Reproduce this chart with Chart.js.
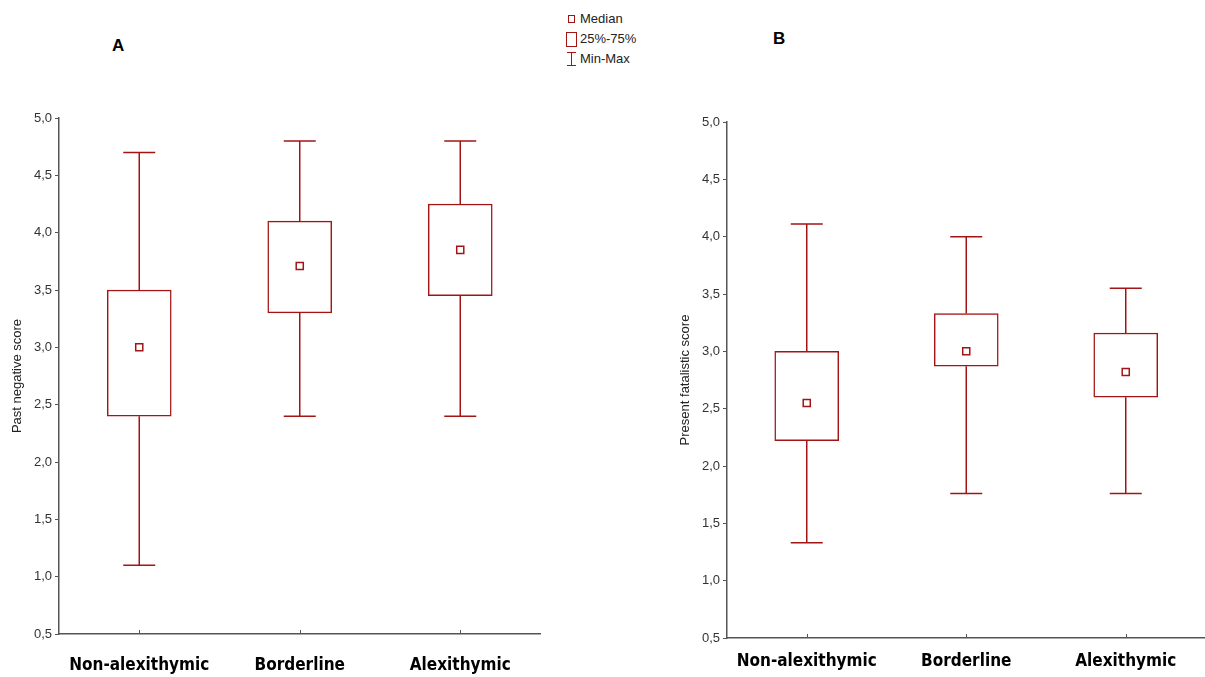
<!DOCTYPE html>
<html>
<head>
<meta charset="utf-8">
<script src="https://cdn.jsdelivr.net/npm/chart.js@4/dist/chart.umd.min.js"></script>
<style>
  body { margin: 0; background: #fff; width: 1205px; height: 677px; position: relative; overflow: hidden; font-family: "Liberation Sans", Arial, sans-serif; }
  .panel { position: absolute; top: 0; height: 677px; }
  .letter { position: absolute; font-family: "Liberation Sans", Arial, sans-serif; font-weight: bold; font-size: 17px; color: #000; }
  .legend { position: absolute; left: 565px; top: 9px; font-size: 13px; color: #222; }
  .legend div { position: relative; height: 20px; line-height: 20px; padding-left: 15px; }
  .mk { position: absolute; box-sizing: border-box; border: 1.5px solid #a31515; background: #fff; }
</style>
</head>
<body>
<div class="letter" style="left:112px; top:36px;">A</div>
<div class="letter" style="left:773px; top:29px;">B</div>
<div class="legend">
  <div><span class="mk" style="left:3px; top:6px; width:7px; height:8px;"></span>Median</div>
  <div><span class="mk" style="left:1px; top:3px; width:11px; height:15px;"></span>25%-75%</div>
  <div><span class="mk" style="left:6px; top:3px; width:0; height:14px; border-width:0 0 0 1.5px;"></span><span class="mk" style="left:2px; top:3px; width:9px; height:0; border-width:1.5px 0 0 0;"></span><span class="mk" style="left:2px; top:16px; width:9px; height:0; border-width:1.5px 0 0 0;"></span>Min-Max</div>
</div>
<canvas id="chartA" class="panel" style="left:0px;" width="547" height="677"></canvas>
<canvas id="chartB" class="panel" style="left:665px;" width="547" height="677"></canvas>
<script>
const categories = ['Non-alexithymic', 'Borderline', 'Alexithymic'];
const yTicks = [0.5, 1.0, 1.5, 2.0, 2.5, 3.0, 3.5, 4.0, 4.5, 5.0];

// Panel A: Past negative score
const pastNegMin    = [1.10, 2.40, 2.40];
const pastNegQ1     = [2.40, 3.30, 3.45];
const pastNegMedian = [3.00, 3.71, 3.85];
const pastNegQ3     = [3.50, 4.10, 4.25];
const pastNegMax    = [4.70, 4.80, 4.80];

// Panel B: Present fatalistic score
const presFatMin    = [1.33, 1.76, 1.76];
const presFatQ1     = [2.22, 2.87, 2.60];
const presFatMedian = [2.55, 3.00, 2.82];
const presFatQ3     = [3.00, 3.33, 3.16];
const presFatMax    = [4.11, 4.00, 3.55];

const RED = '#a31515';
const AXIS = '#555';

const whiskerPlugin = {
    id: 'whiskers',
    beforeDatasetsDraw(chart, args, opts) {
        const x = chart.scales.x, y = chart.scales.y, ctx = chart.ctx;
        ctx.save();
        ctx.strokeStyle = RED;
        ctx.lineWidth = 1.5;
        categories.forEach((c, i) => {
            const px = x.getPixelForValue(i);
            const yMax = y.getPixelForValue(opts.max[i]);
            const yMin = y.getPixelForValue(opts.min[i]);
            const yQ1 = y.getPixelForValue(opts.q1[i]);
            const yQ3 = y.getPixelForValue(opts.q3[i]);
            ctx.beginPath();
            ctx.moveTo(px, yMax); ctx.lineTo(px, yQ3);
            ctx.moveTo(px, yQ1); ctx.lineTo(px, yMin);
            ctx.moveTo(px - 16, yMax); ctx.lineTo(px + 16, yMax);
            ctx.moveTo(px - 16, yMin); ctx.lineTo(px + 16, yMin);
            ctx.stroke();
        });
        // small inward ticks on the category axis
        ctx.strokeStyle = AXIS;
        ctx.lineWidth = 1;
        categories.forEach((c, i) => {
            const px = Math.round(x.getPixelForValue(i)) + 0.5;
            ctx.beginPath();
            ctx.moveTo(px, y.bottom); ctx.lineTo(px, y.bottom - 4);
            ctx.stroke();
        });
        ctx.restore();
    }
};

function makeBox(id, title, mins, q1s, meds, q3s, maxs, yWidth, titlePad, top, xHeight, xPad) {
    new Chart(document.getElementById(id), {
        type: 'bar',
        data: {
            labels: categories,
            datasets: [{
                type: 'line',
                data: meds,
                showLine: false,
                pointStyle: 'rect',
                pointRadius: 5,
                pointBorderWidth: 1.5,
                pointBorderColor: RED,
                pointBackgroundColor: '#fff',
                order: 0
            }, {
                data: q1s.map((v, i) => [v, q3s[i]]),
                backgroundColor: '#fff',
                borderColor: RED,
                borderWidth: 1.5,
                borderSkipped: false,
                barThickness: 64,
                order: 1
            }]
        },
        options: {
            responsive: false,
            animation: false,
            layout: { padding: { top: top, right: 1, left: 0, bottom: 0 } },
            plugins: {
                legend: { display: false },
                tooltip: { enabled: false },
                whiskers: { min: mins, q1: q1s, q3: q3s, max: maxs }
            },
            scales: {
                x: {
                    grid: { display: true, drawOnChartArea: false, drawTicks: false },
                    border: { color: AXIS, width: 1.5 },
                    ticks: { color: '#000', padding: xPad, maxRotation: 0, minRotation: 0, autoSkip: false,
                             font: { family: '"Liberation Sans Narrow", "DejaVu Sans Condensed", sans-serif', weight: 'bold', size: 17 } },
                    afterFit(s) { s.height = xHeight; s.paddingLeft = 0; s.paddingRight = 0; }
                },
                y: {
                    min: 0.5, max: 5.0,
                    afterBuildTicks(s) { s.ticks = yTicks.map(v => ({ value: v })); },
                    grid: { drawOnChartArea: false, tickLength: 4, color: AXIS },
                    border: { color: AXIS, width: 1.5 },
                    ticks: {
                        color: '#333', padding: 3,
                        font: { family: '"Liberation Sans", Arial, sans-serif', size: 13 },
                        callback: v => v.toFixed(1).replace('.', ',')
                    },
                    title: {
                        display: true, text: title, color: '#222',
                        padding: { top: titlePad, bottom: 0 },
                        font: { family: '"Liberation Sans", Arial, sans-serif', size: 13 }
                    },
                    afterFit(s) { s.width = yWidth; }
                }
            }
        },
        plugins: [whiskerPlugin]
    });
}

makeBox('chartA', 'Past negative score', pastNegMin, pastNegQ1, pastNegMedian, pastNegQ3, pastNegMax, 59, 10, 118, 43, 21);
makeBox('chartB', 'Present fatalistic score', presFatMin, presFatQ1, presFatMedian, presFatQ3, presFatMax, 62, 13, 122, 39, 13);
</script>
</body>
</html>
